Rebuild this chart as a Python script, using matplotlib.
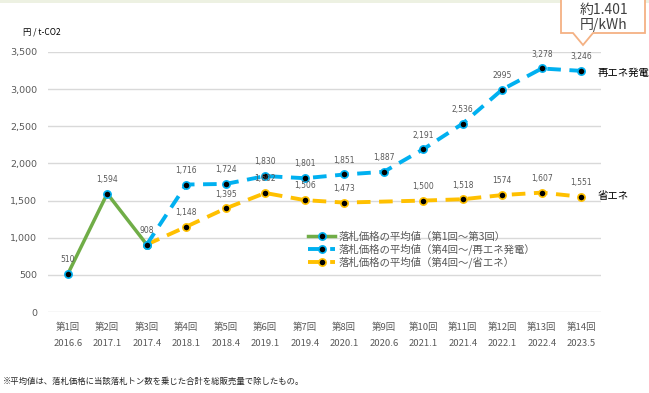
import matplotlib
matplotlib.use("Agg")
import matplotlib.pyplot as plt
import numpy as np
from matplotlib.patches import Polygon, Rectangle

plt.rcParams['font.family'] = ['Noto Sans CJK JP', 'DejaVu Sans']

rounds = ["第1回", "第2回", "第3回", "第4回", "第5回", "第6回", "第7回",
          "第8回", "第9回", "第10回", "第11回", "第12回", "第13回", "第14回"]
dates = ["2016.6", "2017.1", "2017.4", "2018.1", "2018.4", "2019.1", "2019.4",
         "2020.1", "2020.6", "2021.1", "2021.4", "2022.1", "2022.4", "2023.5"]

green = [510, 1594, 908, None, None, None, None, None, None, None, None, None, None, None]
blue = [None, None, 908, 1716, 1724, 1830, 1801, 1851, 1887, 2191, 2536, 2995, 3278, 3246]
yellow = [None, None, 908, 1148, 1395, 1602, 1506, 1473, None, 1500, 1518, 1574, 1607, 1551]

green_labels = ["510", "1,594", "908"]
blue_labels = ["1,716", "1,724", "1,830", "1,801", "1,851", "1,887", "2,191", "2,536",
               "2995", "3,278", "3,246"]
yellow_labels = ["908", "1,148", "1,395", "1,602", "1,506", "1,473", "1,500", "1,518",
                 "1574", "1,607", "1,551"]

C_GREEN = "#70AD47"
C_BLUE = "#00B0F0"
C_YELLOW = "#FFC000"
GRAY = "#595959"

fig = plt.figure(figsize=(6.49, 3.93), dpi=100)
fig.patch.set_facecolor("white")
fig.add_artist(Rectangle((0, 1 - 3 / 393), 1, 3 / 393, transform=fig.transFigure,
                         facecolor="#EDF1E2", edgecolor="none"))

ax = fig.add_axes([48 / 649, 1 - 312 / 393, (601 - 48) / 649, (312 - 52) / 393])


def pts(vals):
    xs = [i for i, v in enumerate(vals) if v is not None]
    ys = [v for v in vals if v is not None]
    return np.array(xs), np.array(ys)


gx, gy = pts(green)
bx, by = pts(blue)
yx, yy = pts(yellow)

mk = dict(marker="o", markersize=5.2, markerfacecolor="black", markeredgewidth=1.2)
ly, = ax.plot(yx, yy, color=C_YELLOW, lw=2.8, dashes=(3.5, 2.2), markeredgecolor=C_YELLOW,
              label="落札価格の平均値（第4回～/省エネ）", zorder=3, **mk)
lb, = ax.plot(bx, by, color=C_BLUE, lw=2.8, dashes=(3.5, 2.2), markeredgecolor=C_BLUE,
              label="落札価格の平均値（第4回～/再エネ発電）", zorder=3, **mk)
lg, = ax.plot(gx, gy, color=C_GREEN, lw=2.5, markeredgecolor=C_BLUE,
              label="落札価格の平均値（第1回～第3回）", zorder=4, **mk)

for x, y, t in zip(gx, gy, green_labels):
    ax.annotate(t, (x, y), xytext=(0, 7), textcoords="offset points", ha="center",
                va="bottom", fontsize=5.5, color=GRAY, family="DejaVu Sans", zorder=6)
for x, y, t in zip(bx[1:], by[1:], blue_labels):
    ax.annotate(t, (x, y), xytext=(0, 7), textcoords="offset points", ha="center",
                va="bottom", fontsize=5.5, color=GRAY, family="DejaVu Sans", zorder=6)
for x, y, t in zip(yx[1:], yy[1:], yellow_labels[1:]):
    ax.annotate(t, (x, y), xytext=(0, 7), textcoords="offset points", ha="center",
                va="bottom", fontsize=5.5, color=GRAY, family="DejaVu Sans", zorder=6)

ax.set_xlim(-0.5, 13.5)
ax.set_ylim(0, 3500)
ax.set_yticks(np.arange(0, 3501, 500))
ax.set_yticklabels([f"{v:,}" for v in range(0, 3501, 500)])
ax.set_xticks(range(len(rounds)))
ax.set_xticklabels([f"{r}\n{d}" for r, d in zip(rounds, dates)], linespacing=1.9)
ax.tick_params(axis="both", length=0, colors=GRAY, labelsize=6.8)
ax.tick_params(axis="x", pad=8)
ax.tick_params(axis="y", pad=8)
for lab in ax.get_yticklabels():
    lab.set_family("DejaVu Sans")
ax.grid(axis="y", color="#D9D9D9", lw=1)
ax.set_axisbelow(True)
for s in ax.spines.values():
    s.set_visible(False)

leg = fig.legend(handles=[lg, lb, ly], loc="upper left",
                 bbox_to_anchor=(308 / 649, 1 - 232 / 393), frameon=False,
                 fontsize=7.5, labelspacing=0.15, handlelength=2.6, handletextpad=0.3,
                 borderpad=0, borderaxespad=0)
for t in leg.get_texts():
    t.set_color(GRAY)

fig.text(598 / 649, 1 - 73 / 393, "再エネ発電", fontsize=7.5, color="black",
         ha="left", va="center")
fig.text(598 / 649, 1 - 196 / 393, "省エネ", fontsize=7.5, color="black",
         ha="left", va="center")
fig.text(23 / 649, 1 - 32 / 393, "円 / t-CO2", fontsize=6, color="black",
         ha="left", va="center")
fig.text(3 / 649, 1 - 381 / 393, "※平均値は、落札価格に当該落札トン数を乗じた合計を総販売量で除したもの。",
         fontsize=6, color="#262626", ha="left", va="center")

# callout box
W, H = 649, 393
poly = [(561, -5), (645, -5), (645, 33), (593, 33), (583, 45), (573, 33), (561, 33)]
fig.add_artist(Polygon([(x / W, 1 - y / H) for x, y in poly], closed=True,
                       transform=fig.transFigure, facecolor="white",
                       edgecolor="#F4B183", lw=1.3, zorder=10, clip_on=False))
fig.text(604 / W, 1 - 10 / H, "約1.401", fontsize=10, color="#404040",
         ha="center", va="center", zorder=11)
fig.text(604 / W, 1 - 25 / H, "円/kWh", fontsize=10, color="#404040",
         ha="center", va="center", zorder=11)

fig.savefig("out.png", dpi=100)
